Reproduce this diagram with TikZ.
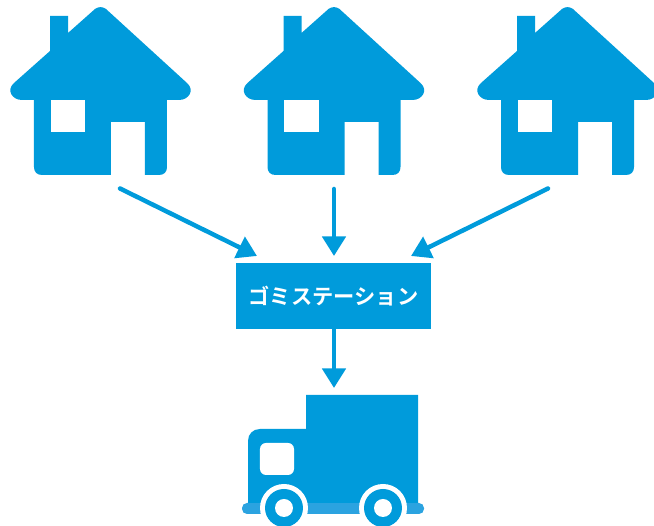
\documentclass[tikz,border=0pt]{standalone}
\usepackage{fontspec}
\newfontfamily\cjkbold{Noto Sans CJK JP Bold}
\usepackage{xcolor}
\usetikzlibrary{arrows.meta,calc,positioning}
\definecolor{garbageblue}{HTML}{009BDB}
\definecolor{stripblue}{HTML}{2BA3E0}
\tikzset{flow/.style={garbageblue,line width=0.09cm,line cap=round,-{Triangle[length=0.39cm,width=0.46cm]}},
         station/.style={fill=garbageblue,text=white,inner sep=0pt,minimum width=3.9cm,minimum height=1.32cm,font=\cjkbold\fontsize{12.1pt}{14pt}\selectfont}}

\begin{document}
\begin{tikzpicture}[x=0.02cm,y=-0.02cm]
            \useasboundingbox (0,0) rectangle (654,526);
            % houses
            \foreach \dx in {0,233.5,467} {
                \fill[garbageblue,shift={(\dx,0)}] (95,9) .. controls (98,6.5) and (103,6.5) .. (106,9) -- (187,83)
                    .. controls (195,90) and (189,100) .. (179,100) -- (167,100) -- (167,167)
                    .. controls (167,172) and (164,175) .. (159,175) -- (145,175) -- (145,122) -- (111,122) -- (111,175) -- (42,175)
                    .. controls (37,175) and (34,172) .. (34,167) -- (34,100) -- (22,100)
                    .. controls (12,100) and (6,90) .. (14,83) -- (50,51) -- (50,16) -- (68,16) -- (68,33) -- cycle;
                \fill[white,shift={(\dx,0)}] (51,100) rectangle (85,132);
            }
            % station
            \node[station] (gomi) at (333.5,296) {ゴミステーション};
            \coordinate (from1) at (120,188.5);
            \coordinate (from2) at (334,189);
            \coordinate (from3) at (548,188.5);
            \coordinate (to1) at (257,256);
            \coordinate (to2) at (334,256);
            \coordinate (to3) at (411,256);
            \coordinate (to4) at (334,388);
            \draw[flow] (from1) -- (to1);
            \draw[flow] (from2) -- (to2);
            \draw[flow] (from3) -- (to3);
            \draw[flow] (gomi.south -| to4) -- (to4);
            % truck
            \fill[stripblue,rounded corners=0.1cm] (242,503) rectangle (424,514);
            \fill[garbageblue] (306,395) -- (418,395) -- (418,503) -- (248,503) -- (248,441)
                .. controls (248,434) and (253,429) .. (260,429) -- (306,429) -- cycle;
            \fill[white,rounded corners=0.12cm] (260,443) rectangle (294,475);
            \foreach \wx in {284,383} {
                \fill[white] (\wx,508) circle (0.48cm);
                \fill[garbageblue] (\wx,508) circle (0.38cm);
                \fill[white] (\wx,508) circle (0.18cm);
            }
        \end{tikzpicture}
\end{document}
